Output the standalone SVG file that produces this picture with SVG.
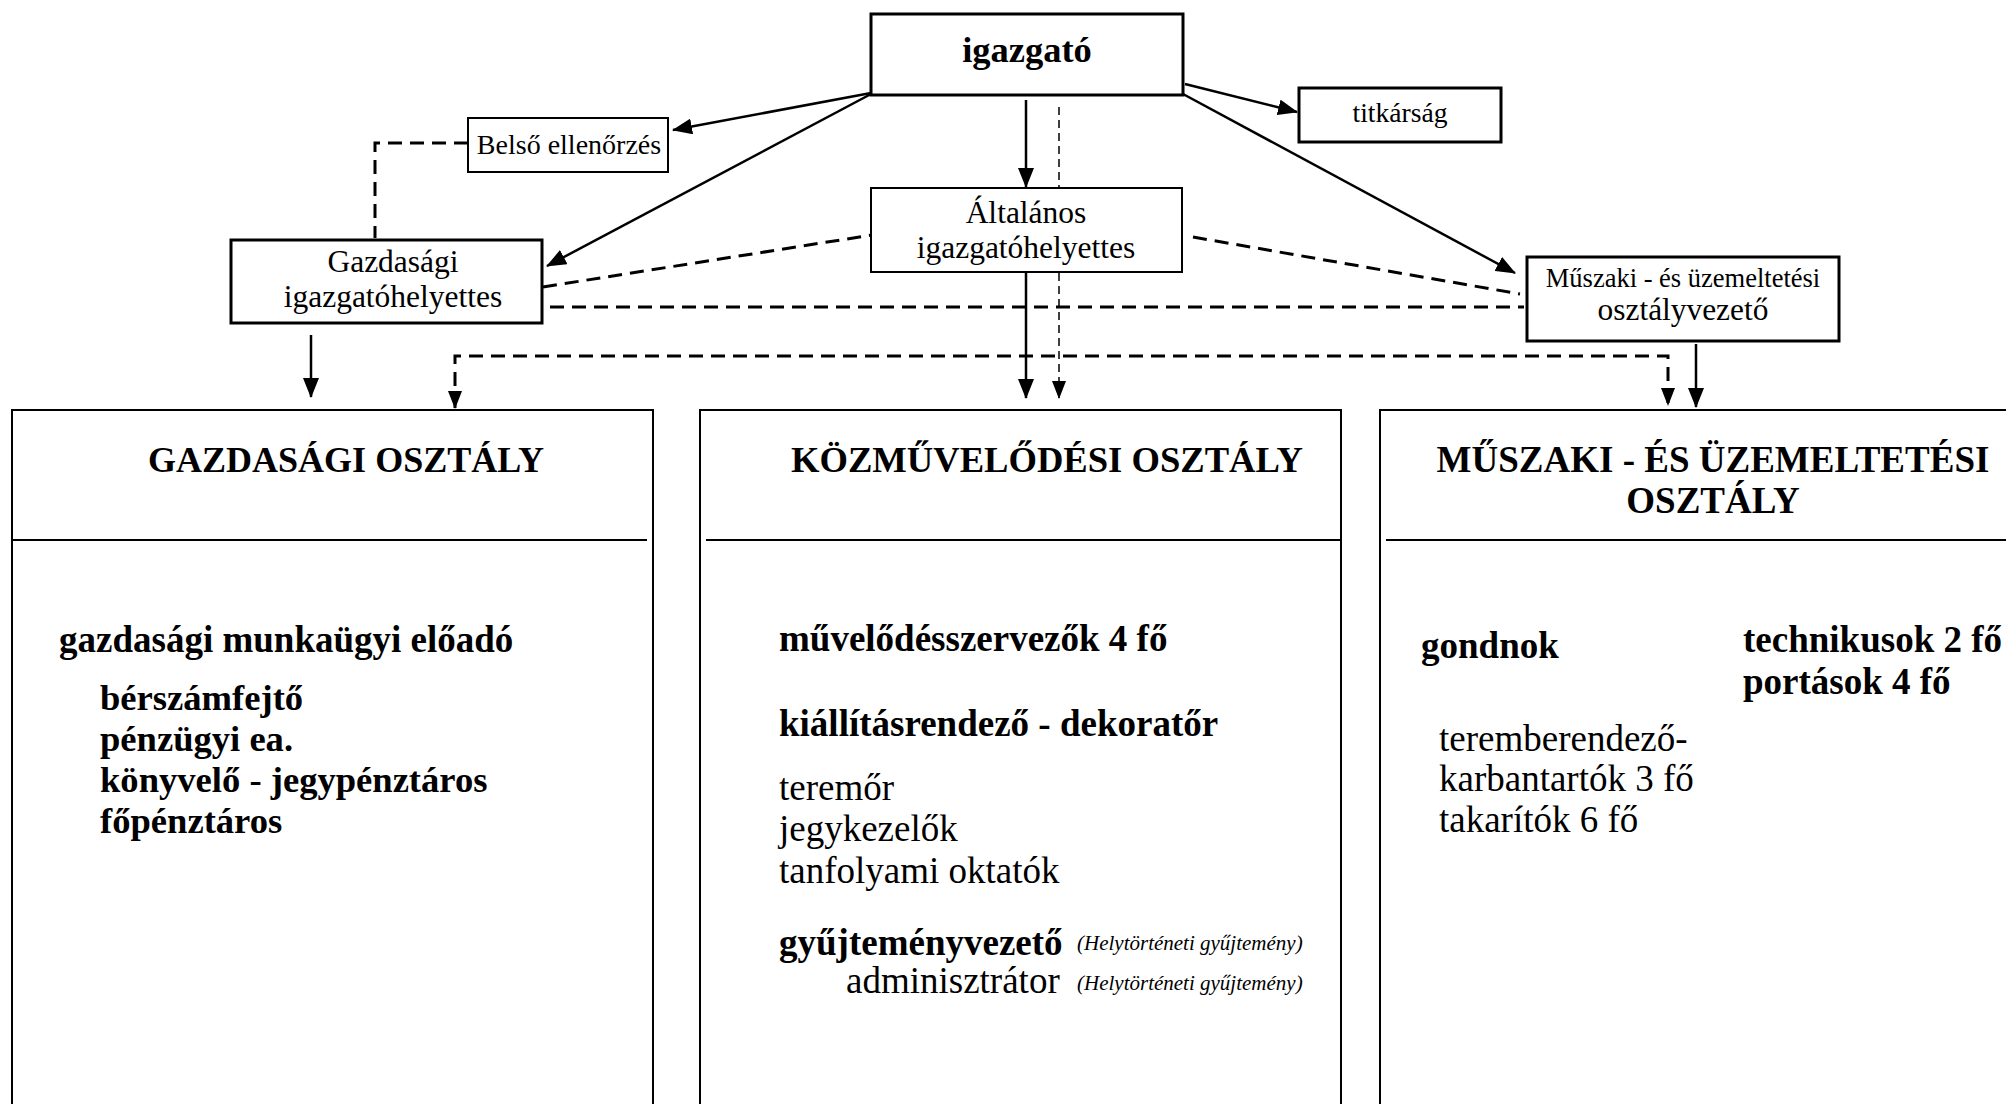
<svg xmlns="http://www.w3.org/2000/svg" width="2006" height="1104" viewBox="0 0 2006 1104">
<defs>
<style>
.box{fill:#fff;stroke:#000;stroke-width:2}
.thick{stroke-width:3}
.ln{fill:none;stroke:#000;stroke-width:2}
.t{font-family:"Liberation Serif","Times New Roman",serif;fill:#000}
.b{font-weight:bold}
.i{font-style:italic}
.c{text-anchor:middle}
.sol{fill:none;stroke:#000;stroke-width:2.5}
.dsh{fill:none;stroke:#000;stroke-width:3;stroke-dasharray:14 8}
.thin{fill:none;stroke:#000;stroke-width:1.5;stroke-dasharray:8 5}
</style>
<marker id="ah" markerUnits="userSpaceOnUse" viewBox="0 0 20 16" markerWidth="20" markerHeight="16" refX="19" refY="8" orient="auto-start-reverse">
<path d="M0,0 L20,8 L0,16 z" fill="#000"/>
</marker>
<marker id="ahs" markerUnits="userSpaceOnUse" viewBox="0 0 18 14" markerWidth="18" markerHeight="14" refX="17" refY="7" orient="auto-start-reverse">
<path d="M0,0 L18,7 L0,14 z" fill="#000"/>
</marker>
</defs>
<rect width="2006" height="1104" fill="#fff"/>

<g id="connectors">
<path class="sol" d="M871,93 L673,130" marker-end="url(#ah)"/>
<path class="sol" d="M871,94 L547,266" marker-end="url(#ah)"/>
<path class="sol" d="M1026,100 L1026,187" marker-end="url(#ah)"/>
<path class="thin" d="M1059,107 L1059,187"/>
<path class="thin" d="M1059,273 L1059,398" marker-end="url(#ahs)"/>
<path class="sol" d="M1026,273 L1026,398" marker-end="url(#ah)"/>
<path class="sol" d="M1185,84 L1297,112" marker-end="url(#ah)"/>
<path class="sol" d="M1183,94 L1515,273" marker-end="url(#ah)"/>
<path class="dsh" d="M468,143 L375,143 L375,238"/>
<path class="dsh" d="M543,287 L872,235"/>
<path class="dsh" d="M1193,237 L1520,294"/>
<path class="dsh" d="M550,307 L1524,307"/>
<path class="dsh" d="M455,408 L455,356 L1668,356 L1668,405" marker-start="url(#ahs)" marker-end="url(#ahs)"/>
<path class="sol" d="M311,335 L311,397" marker-end="url(#ah)"/>
<path class="sol" d="M1696,344 L1696,407" marker-end="url(#ah)"/>
</g>

<g id="igazgato">
<rect class="box thick" x="871" y="14" width="312" height="81"/>
<text class="t b c" x="1027" y="62" font-size="36.5">igazgató</text>
</g>

<g id="titkarsag">
<rect class="box thick" x="1299" y="88" width="202" height="54"/>
<text class="t c" x="1400" y="122" font-size="27.6">titkárság</text>
</g>

<g id="belso-ellenorzes">
<rect class="box" x="468" y="118" width="200" height="54"/>
<text class="t c" x="569" y="154" font-size="28">Belső ellenőrzés</text>
</g>

<g id="altalanos-igazgatohelyettes">
<rect class="box" x="871" y="188" width="311" height="84"/>
<text class="t c" x="1026" y="223" font-size="31.5">Általános</text>
<text class="t c" x="1026" y="258" font-size="31.5">igazgatóhelyettes</text>
</g>

<g id="gazdasagi-igazgatohelyettes">
<rect class="box thick" x="231" y="240" width="311" height="83"/>
<text class="t c" x="393" y="272" font-size="31.5">Gazdasági</text>
<text class="t c" x="393" y="307" font-size="31.5">igazgatóhelyettes</text>
</g>

<g id="muszaki-osztalyvezeto">
<rect class="box thick" x="1527" y="257" width="312" height="84"/>
<text class="t c" x="1683" y="287" font-size="26.5">Műszaki - és üzemeltetési</text>
<text class="t c" x="1683" y="320" font-size="31.4">osztályvezető</text>
</g>

<g id="gazdasagi-osztaly">
<rect class="box" x="12" y="410" width="641" height="720"/>
<path class="ln" d="M12,540 L647,540"/>
<text class="t b c" x="346" y="472" font-size="36">GAZDASÁGI OSZTÁLY</text>
<text class="t b" x="59" y="652" font-size="37">gazdasági munkaügyi előadó</text>
<text class="t b" x="100" y="710" font-size="36.6">bérszámfejtő</text>
<text class="t b" x="100" y="751" font-size="36.6">pénzügyi ea.</text>
<text class="t b" x="100" y="792" font-size="36.6">könyvelő - jegypénztáros</text>
<text class="t b" x="100" y="833" font-size="36.6">főpénztáros</text>
</g>

<g id="kozmuvelodesi-osztaly">
<rect class="box" x="700" y="410" width="641" height="720"/>
<path class="ln" d="M706,540 L1341,540"/>
<text class="t b c" x="1047" y="472" font-size="36.6">KÖZMŰVELŐDÉSI OSZTÁLY</text>
<text class="t b" x="779" y="651" font-size="37">művelődésszervezők 4 fő</text>
<text class="t b" x="779" y="736" font-size="37">kiállításrendező - dekoratőr</text>
<text class="t" x="779" y="800" font-size="37">teremőr</text>
<text class="t" x="779" y="841" font-size="37">jegykezelők</text>
<text class="t" x="779" y="883" font-size="37">tanfolyami oktatók</text>
<text class="t b" x="779" y="955" font-size="37">gyűjteményvezető</text>
<text class="t i" x="1077" y="950" font-size="21">(Helytörténeti gyűjtemény)</text>
<text class="t" x="846" y="993" font-size="37">adminisztrátor</text>
<text class="t i" x="1077" y="990" font-size="21">(Helytörténeti gyűjtemény)</text>
</g>

<g id="muszaki-osztaly">
<rect class="box" x="1380" y="410" width="700" height="720"/>
<path class="ln" d="M1386,540 L2006,540"/>
<text class="t b c" x="1713" y="472" font-size="37">MŰSZAKI - ÉS ÜZEMELTETÉSI</text>
<text class="t b c" x="1713" y="513" font-size="37">OSZTÁLY</text>
<text class="t b" x="1421" y="658" font-size="37">gondnok</text>
<text class="t b" x="1743" y="652" font-size="37">technikusok 2 fő</text>
<text class="t b" x="1743" y="694" font-size="37">portások 4 fő</text>
<text class="t" x="1439" y="751" font-size="37">teremberendező-</text>
<text class="t" x="1439" y="791" font-size="37">karbantartók 3 fő</text>
<text class="t" x="1439" y="832" font-size="37">takarítók 6 fő</text>
</g>
</svg>
